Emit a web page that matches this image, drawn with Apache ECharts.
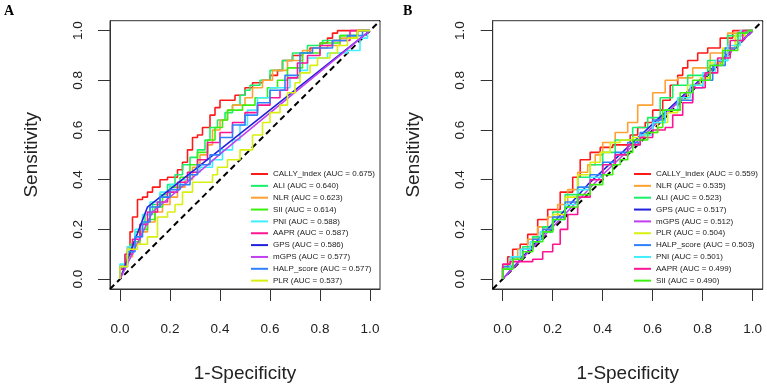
<!DOCTYPE html>
<html>
<head>
<meta charset="utf-8">
<script src="https://cdn.jsdelivr.net/npm/echarts@6/dist/echarts.min.js"></script>
<style>
  html, body { margin: 0; padding: 0; background: #fff; }
  #main { width: 767px; height: 388px; }
</style>
</head>
<body>
<div id="main"></div>
<script>
// tick positions on both axes
var ticks = [0, 0.2, 0.4, 0.6, 0.8, 1.0];

// panel A curves: [1-specificity, sensitivity]
var aCally = [[0,0],[.02,.05],[.03,.08],[.04,.13],[.05,.19],[.07,.25],[.09,.32],[.11,.33],[.13,.35],[.16,.37],[.19,.40],[.23,.41],[.25,.44],[.27,.47],[.29,.52],[.31,.57],[.33,.58],[.36,.61],[.38,.66],[.40,.69],[.46,.72],[.50,.74],[.53,.77],[.57,.79],[.60,.80],[.63,.82],[.65,.84],[.69,.88],[.73,.90],[.76,.91],[.80,.93],[.83,.95],[.85,.97],[.87,.99],[1,1]];
var aAli = [[0,0],[.02,.04],[.04,.09],[.06,.14],[.08,.19],[.10,.22],[.13,.26],[.16,.30],[.19,.34],[.22,.38],[.25,.42],[.28,.46],[.31,.49],[.34,.52],[.36,.56],[.39,.61],[.42,.64],[.45,.67],[.48,.70],[.50,.74],[.52,.76],[.56,.78],[.60,.80],[.65,.84],[.69,.88],[.75,.91],[.81,.94],[.88,.96],[.95,.98],[1,1]];
var aNlr = [[0,0],[.02,.04],[.05,.09],[.08,.14],[.11,.19],[.14,.23],[.17,.27],[.20,.30],[.23,.33],[.26,.37],[.29,.40],[.32,.45],[.35,.50],[.37,.54],[.40,.60],[.43,.64],[.45,.68],[.50,.70],[.53,.73],[.57,.77],[.61,.80],[.67,.84],[.73,.88],[.77,.92],[.83,.93],[.88,.94],[.95,.97],[1,1]];
var aSii = [[0,0],[.02,.05],[.05,.10],[.08,.15],[.11,.20],[.14,.24],[.17,.29],[.20,.33],[.24,.37],[.28,.41],[.31,.46],[.35,.51],[.38,.56],[.41,.61],[.43,.64],[.49,.68],[.54,.70],[.59,.73],[.63,.77],[.67,.80],[.73,.85],[.80,.91],[.88,.95],[.95,.98],[1,1]];
var aPni = [[0,0],[.03,.06],[.06,.13],[.09,.20],[.12,.26],[.16,.31],[.20,.35],[.24,.38],[.28,.40],[.32,.43],[.37,.45],[.41,.48],[.45,.52],[.48,.56],[.51,.62],[.55,.68],[.60,.73],[.68,.77],[.72,.81],[.75,.84],[.83,.89],[.91,.91],[.96,.92],[.99,.97],[1,1]];
var aAapr = [[0,0],[.02,.04],[.05,.10],[.08,.16],[.11,.22],[.15,.27],[.19,.31],[.23,.35],[.27,.39],[.31,.43],[.35,.48],[.40,.55],[.45,.59],[.50,.63],[.55,.67],[.60,.70],[.64,.73],[.67,.76],[.71,.81],[.75,.87],[.80,.90],[.85,.94],[.92,.96],[1,1]];
var aGps = [[0,0],[.11,.29],[1,1]];
var aMgps = [[0,0],[.13,.27],[.42,.52],[1,1]];
var aHalp = [[0,0],[.03,.05],[.06,.11],[.09,.17],[.12,.23],[.16,.29],[.20,.33],[.24,.36],[.28,.38],[.31,.42],[.36,.46],[.40,.50],[.45,.57],[.50,.62],[.55,.66],[.60,.71],[.66,.76],[.72,.82],[.77,.91],[.85,.93],[.91,.96],[.97,.98],[1,1]];
var aPlr = [[0,0],[.03,.05],[.07,.12],[.11,.14],[.15,.17],[.19,.25],[.22,.27],[.25,.30],[.29,.35],[.31,.39],[.37,.39],[.39,.42],[.43,.45],[.48,.48],[.53,.52],[.57,.58],[.60,.63],[.64,.67],[.67,.70],[.70,.75],[.72,.79],[.76,.83],[.79,.86],[.84,.89],[.87,.91],[.91,.94],[.95,.97],[1,1]];

// panel B curves
var bCally = [[0,0],[.02,.04],[.04,.09],[.07,.12],[.10,.14],[.14,.18],[.18,.24],[.23,.28],[.28,.35],[.31,.41],[.35,.48],[.39,.51],[.44,.53],[.51,.54],[.54,.58],[.57,.61],[.60,.63],[.64,.68],[.67,.72],[.70,.78],[.72,.82],[.74,.85],[.78,.88],[.82,.91],[.87,.93],[.92,.97],[.99,1],[1,1]];
var bNlr = [[0,0],[.03,.04],[.06,.08],[.10,.12],[.14,.16],[.18,.21],[.22,.25],[.26,.30],[.30,.36],[.34,.43],[.37,.46],[.40,.50],[.45,.55],[.50,.59],[.54,.63],[.60,.70],[.65,.75],[.70,.80],[.76,.81],[.83,.85],[.90,.91],[.96,.99],[1,1]];
var bAli = [[0,0],[.04,.05],[.08,.09],[.12,.13],[.16,.17],[.20,.21],[.25,.27],[.30,.34],[.35,.41],[.40,.46],[.45,.51],[.52,.56],[.58,.61],[.63,.65],[.68,.73],[.74,.78],[.82,.82],[.90,.88],[.97,.98],[1,1]];
var bGps = [[0,0],[.34,.38],[1,1]];
var bMgps = [[0,0],[.40,.42],[1,1]];
var bPlr = [[0,0],[.04,.05],[.08,.09],[.12,.12],[.16,.16],[.20,.20],[.25,.26],[.30,.33],[.35,.42],[.39,.47],[.43,.51],[.47,.55],[.52,.56],[.57,.57],[.62,.59],[.66,.63],[.70,.67],[.74,.72],[.79,.78],[.83,.81],[.88,.87],[.93,.93],[.97,.98],[1,1]];
var bHalp = [[0,0],[.04,.05],[.08,.09],[.12,.12],[.16,.16],[.20,.20],[.25,.25],[.30,.31],[.35,.37],[.40,.42],[.45,.47],[.50,.51],[.55,.55],[.60,.59],[.65,.64],[.71,.68],[.76,.72],[.80,.77],[.84,.80],[.89,.86],[.94,.93],[.98,.99],[1,1]];
var bPni = [[0,0],[.03,.04],[.07,.09],[.11,.12],[.15,.15],[.20,.19],[.25,.24],[.30,.30],[.35,.36],[.40,.41],[.45,.46],[.50,.50],[.55,.54],[.60,.58],[.65,.63],[.70,.68],[.75,.73],[.80,.78],[.85,.83],[.90,.88],[.95,.94],[1,1]];
var bAapr = [[0,0],[.03,.06],[.05,.07],[.08,.07],[.12,.07],[.16,.08],[.20,.11],[.23,.14],[.26,.20],[.30,.26],[.35,.33],[.40,.40],[.45,.46],[.50,.50],[.55,.54],[.60,.57],[.65,.60],[.68,.61],[.72,.66],[.76,.71],[.81,.77],[.86,.83],[.91,.89],[.96,.96],[1,1]];
var bSii = [[0,0],[.04,.04],[.08,.08],[.12,.11],[.16,.15],[.20,.19],[.25,.24],[.30,.29],[.35,.34],[.40,.38],[.44,.42],[.47,.46],[.50,.48],[.52,.51],[.58,.56],[.62,.59],[.64,.61],[.71,.68],[.76,.75],[.83,.80],[.88,.86],[.94,.92],[.98,.99],[1,1]];

var diag = [[-0.04,-0.04],[1.04,1.04]];

// legend labels
var namesA = ['CALLY_index (AUC = 0.675)','ALI (AUC = 0.640)','NLR (AUC = 0.623)','SII (AUC = 0.614)','PNI (AUC = 0.588)','AAPR (AUC = 0.587)','GPS (AUC = 0.586)','mGPS (AUC = 0.577)','HALP_score (AUC = 0.577)','PLR (AUC = 0.537)'];
var namesB = ['CALLY_index (AUC = 0.559)','NLR (AUC = 0.535)','ALI (AUC = 0.523)','GPS (AUC = 0.517)','mGPS (AUC = 0.512)','PLR (AUC = 0.504)','HALP_score (AUC = 0.503)','PNI (AUC = 0.501)','AAPR (AUC = 0.499)','SII (AUC = 0.490)'];

var col = {
  cally: '#ff1a1a', ali: '#1aef6a', nlr: '#ffa033', sii: '#3bef0f', pni: '#40eeff',
  aapr: '#ff1493', gps: '#2222dd', mgps: '#c040f0', halp: '#2f80ff', plr: '#d8f010'
};

var curvesA = [aCally, aAli, aNlr, aSii, aPni, aAapr, aGps, aMgps, aHalp, aPlr];
var keysA = ['cally','ali','nlr','sii','pni','aapr','gps','mgps','halp','plr'];
var curvesB = [bCally, bNlr, bAli, bGps, bMgps, bPlr, bHalp, bPni, bAapr, bSii];
var keysB = ['cally','nlr','ali','gps','mgps','plr','halp','pni','aapr','sii'];

var font = 'Liberation Sans, Arial, sans-serif';

function curve(name, data, key, idx) {
  var straight = (key === 'gps' || key === 'mgps');
  return {
    name: name,
    type: 'line',
    data: data,
    xAxisIndex: idx,
    yAxisIndex: idx,
    step: straight ? false : 'start',
    showSymbol: false,
    symbol: 'none',
    color: col[key],
    lineStyle: { width: 1.6, color: col[key] },
    animation: false
  };
}

function xAx(idx) {
  return {
    gridIndex: idx, type: 'value', min: -0.04, max: 1.04,
    name: '1-Specificity', nameLocation: 'middle', nameGap: 75,
    nameTextStyle: { fontSize: 19, color: '#222', fontFamily: font },
    axisLine: { show: true, onZero: false, lineStyle: { color: '#333', width: 1 } },
    axisTick: { show: true, inside: false, customValues: ticks, length: 12, lineStyle: { color: '#333', width: 1 } },
    axisLabel: { customValues: ticks, margin: 33, fontSize: 13.5, color: '#222', fontFamily: font,
      formatter: function (v) { return v.toFixed(1); } },
    splitLine: { show: false }
  };
}
function yAx(idx) {
  return {
    gridIndex: idx, type: 'value', min: -0.04, max: 1.04,
    name: 'Sensitivity', nameLocation: 'middle', nameGap: 69,
    nameTextStyle: { fontSize: 19, color: '#222', fontFamily: font },
    axisLine: { show: true, onZero: false, lineStyle: { color: '#333', width: 1 } },
    axisTick: { show: true, inside: false, customValues: ticks, length: 12, lineStyle: { color: '#333', width: 1 } },
    axisLabel: { customValues: ticks, margin: 25, rotate: 90, fontSize: 13.5, color: '#222', fontFamily: font,
      formatter: function (v) { return v.toFixed(1); } },
    splitLine: { show: false }
  };
}

var series = [];
[0, 1].forEach(function (idx) {
  series.push({
    type: 'line', data: diag, xAxisIndex: idx, yAxisIndex: idx,
    showSymbol: false, symbol: 'none', silent: true, animation: false,
    lineStyle: { color: '#000', width: 2, type: [6, 4] }
  });
});
curvesA.forEach(function (d, i) { series.push(curve(namesA[i], d, keysA[i], 0)); });
curvesB.forEach(function (d, i) { series.push(curve(namesB[i], d, keysB[i], 1)); });

function legendFor(names, left) {
  return {
    data: names, orient: 'vertical', left: left, top: 169, padding: 0,
    icon: 'rect', itemWidth: 17, itemHeight: 2, itemGap: 1.85,
    selectedMode: false,
    textStyle: { fontSize: 8, lineHeight: 10, color: '#222', fontFamily: font }
  };
}

var chart = echarts.init(document.getElementById('main'), null, { renderer: 'canvas' });
chart.setOption({
  backgroundColor: '#fff',
  animation: false,
  grid: [
    { left: 110, top: 20.7, width: 270, height: 270, show: true, borderColor: '#333', borderWidth: 1 },
    { left: 492.7, top: 20.7, width: 270, height: 270, show: true, borderColor: '#333', borderWidth: 1 }
  ],
  xAxis: [xAx(0), xAx(1)],
  yAxis: [yAx(0), yAx(1)],
  legend: [legendFor(namesA, 251), legendFor(namesB, 634)],
  graphic: [
    { type: 'text', left: 4, top: 4, style: { text: 'A', font: 'bold 14px "Liberation Serif", serif', fill: '#000' } },
    { type: 'text', left: 403, top: 4, style: { text: 'B', font: 'bold 14px "Liberation Serif", serif', fill: '#000' } }
  ],
  series: series
});
</script>
</body>
</html>
